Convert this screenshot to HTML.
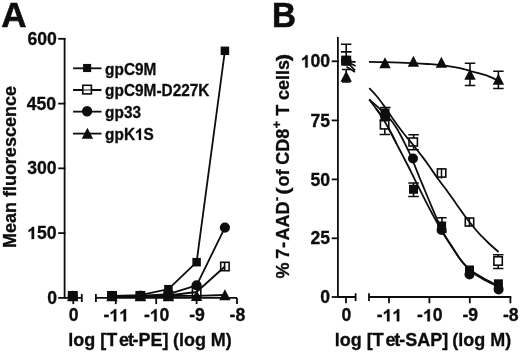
<!DOCTYPE html>
<html><head><meta charset="utf-8"><title>Figure</title>
<style>
html,body{margin:0;padding:0;background:#fff;}
body{width:520px;height:352px;overflow:hidden;}
svg{display:block;will-change:transform;font-family:"Liberation Sans",sans-serif;font-weight:bold;fill:#0d0d0d;font-kerning:none;}
text{stroke:#0d0d0d;stroke-width:0.3px;}
.pl{font-size:35px;stroke-width:0.6px;}
.tk{font-size:17.6px;}
.ti{font-size:18px;}
.lg{font-size:15.4px;}
.ax{stroke:#0d0d0d;stroke-width:1.8;fill:none;}
.ln{stroke:#0d0d0d;stroke-width:1.8;fill:none;}
</style></head>
<body>
<svg width="520" height="352" viewBox="0 0 520 352">
<rect width="520" height="352" fill="#fff"/>
<text transform="translate(1.3 26.8)" class="pl" text-anchor="start">A</text>
<path d="M64.6 37.9 L64.6 297.9" class="ax"/>
<path d="M58.2 38.8 L65.5 38.8" class="ax"/>
<g transform="translate(27.54 44.699999999999996) scale(1 1.0)" class="tk"><text x="0.00">600</text></g>
<path d="M58.2 103.6 L65.5 103.6" class="ax"/>
<g transform="translate(26.64 109.5) scale(1 1.0)" class="tk"><text x="0.00">450</text></g>
<path d="M58.2 168.35 L65.5 168.35" class="ax"/>
<g transform="translate(27.14 174.25) scale(1 1.0)" class="tk"><text x="0.00">300</text></g>
<path d="M58.2 233.1 L65.5 233.1" class="ax"/>
<g transform="translate(27.14 239.0) scale(1 1.0)" class="tk"><path transform="translate(0.00 0) scale(0.00859 -0.00826)" d="M806 0H525V1059Q371 915 162 846V1101Q272 1137 401 1237Q530 1338 578 1466H806Z" stroke="#0d0d0d" stroke-width="0.3" vector-effect="non-scaling-stroke"/><text x="9.79">50</text></g>
<path d="M58.2 297.9 L65.5 297.9" class="ax"/>
<g transform="translate(47.21 303.79999999999995) scale(1 1.0)" class="tk"><text x="0.00">0</text></g>
<path d="M64.6 297.9 L81.8 297.9 M81.8 294.09999999999997 L81.8 301.9 M95.9 297.9 L237 297.9 M95.9 294.09999999999997 L95.9 301.9" class="ax"/>
<path d="M73.3 297.9 L73.3 304.09999999999997" class="ax"/>
<g transform="translate(68.81 321.3) scale(1 1.0)" class="tk"><text x="0.00">0</text></g>
<path d="M115.8 297.9 L115.8 304.09999999999997" class="ax"/>
<g transform="translate(103.48 321.3) scale(1 1.0)" class="tk"><text x="0.00">-</text><path transform="translate(5.86 0) scale(0.00859 -0.00826)" d="M806 0H525V1059Q371 915 162 846V1101Q272 1137 401 1237Q530 1338 578 1466H806Z" stroke="#0d0d0d" stroke-width="0.3" vector-effect="non-scaling-stroke"/><path transform="translate(15.65 0) scale(0.00859 -0.00826)" d="M806 0H525V1059Q371 915 162 846V1101Q272 1137 401 1237Q530 1338 578 1466H806Z" stroke="#0d0d0d" stroke-width="0.3" vector-effect="non-scaling-stroke"/></g>
<path d="M156.2 297.9 L156.2 304.09999999999997" class="ax"/>
<g transform="translate(143.88 321.3) scale(1 1.0)" class="tk"><text x="0.00">-</text><path transform="translate(5.86 0) scale(0.00859 -0.00826)" d="M806 0H525V1059Q371 915 162 846V1101Q272 1137 401 1237Q530 1338 578 1466H806Z" stroke="#0d0d0d" stroke-width="0.3" vector-effect="non-scaling-stroke"/><text x="15.65">0</text></g>
<path d="M196.6 297.9 L196.6 304.09999999999997" class="ax"/>
<g transform="translate(189.18 321.3) scale(1 1.0)" class="tk"><text x="0.00">-9</text></g>
<path d="M237 297.9 L237 304.09999999999997" class="ax"/>
<g transform="translate(229.58 321.3) scale(1 1.0)" class="tk"><text x="0.00">-8</text></g>
<g transform="translate(0 345.6) scale(1 1.02)" class="ti"><text x="68.22">log [T</text><text x="118.90">e</text><text x="127.91">t</text><text x="132.61">-PE] </text><text x="172.91">(log M)</text></g>
<text transform="translate(16.3 167.1) rotate(-90) scale(1.0 1.02)" class="ti" text-anchor="middle">Mean fluorescence</text>
<rect x="83.05" y="63.95" width="8.10" height="8.10" fill="#0d0d0d"/>
<path d="M73.1 68.3 L101.5 68.3" class="ln"/>
<g transform="translate(105.10 74.6) scale(1 1.07)" class="lg"><text x="0.00">gpC9M</text></g>
<rect x="82.80" y="85.30" width="8.60" height="8.60" fill="#fff" stroke="#0d0d0d" stroke-width="1.6"/>
<path d="M73.1 90.0 L82.8 90.0 M91.4 90.0 L101.5 90.0" class="ln"/>
<path d="M82.8 90.0 L91.4 90.0" class="ln" opacity="0.55"/>
<g transform="translate(105.10 96.3) scale(1 1.07)" class="lg"><text x="0.00">gpC9M-D227K</text></g>
<circle cx="87.10" cy="111.25" r="5.15" fill="#0d0d0d"/>
<path d="M73.1 111.65 L101.5 111.65" class="ln"/>
<g transform="translate(105.10 117.95) scale(1 1.07)" class="lg"><text x="0.00">gp33</text></g>
<path d="M87.40 127.70 L93.10 138.80 L81.70 138.80 Z" fill="#0d0d0d"/>
<path d="M73.1 133.6 L101.5 133.6" class="ln"/>
<g transform="translate(105.10 139.9) scale(1 1.07)" class="lg"><text x="0.00">gpK</text><path transform="translate(29.84 0) scale(0.00750 -0.00720)" d="M806 0H525V1059Q371 915 162 846V1101Q272 1137 401 1237Q530 1338 578 1466H806Z" stroke="#0d0d0d" stroke-width="0.3" vector-effect="non-scaling-stroke"/><text x="38.37">S</text></g>
<rect x="68.55" y="291.75" width="8.50" height="8.50" fill="#0d0d0d"/>
<rect x="107.75" y="291.65" width="8.50" height="8.50" fill="#0d0d0d"/>
<rect x="136.15" y="290.95" width="8.50" height="8.50" fill="#0d0d0d"/>
<rect x="164.15" y="284.95" width="8.50" height="8.50" fill="#0d0d0d"/>
<rect x="192.35" y="257.95" width="8.50" height="8.50" fill="#0d0d0d"/>
<rect x="220.65" y="46.55" width="8.50" height="8.50" fill="#0d0d0d"/>
<path d="M112.00 295.90 L140.40 295.20 L168.40 289.20 L196.60 262.20 L224.90 50.80" stroke="#0d0d0d" stroke-width="1.8" fill="none" stroke-linejoin="round"/>
<rect x="68.60" y="291.80" width="8.40" height="8.40" fill="#fff" stroke="#0d0d0d" stroke-width="1.6"/>
<rect x="107.80" y="291.80" width="8.40" height="8.40" fill="#fff" stroke="#0d0d0d" stroke-width="1.6"/>
<rect x="136.20" y="291.80" width="8.40" height="8.40" fill="#fff" stroke="#0d0d0d" stroke-width="1.6"/>
<rect x="164.20" y="291.30" width="8.40" height="8.40" fill="#fff" stroke="#0d0d0d" stroke-width="1.6"/>
<rect x="192.40" y="287.80" width="8.40" height="8.40" fill="#fff" stroke="#0d0d0d" stroke-width="1.6"/>
<rect x="220.70" y="262.30" width="8.40" height="8.40" fill="#fff" stroke="#0d0d0d" stroke-width="1.6"/>
<path d="M224.60 263.00 L224.60 270.00 M224.60 263.00 L224.60 263.00 M224.60 270.00 L224.60 270.00" stroke="#0d0d0d" stroke-width="1.6" fill="none"/>
<path d="M112.00 296.00 L140.40 296.00 L168.40 295.50 L196.60 292.00 L224.90 266.50" stroke="#0d0d0d" stroke-width="1.8" fill="none" stroke-linejoin="round"/>
<circle cx="72.80" cy="296.00" r="5.1" fill="#0d0d0d"/>
<circle cx="112.00" cy="296.00" r="5.1" fill="#0d0d0d"/>
<circle cx="140.40" cy="295.80" r="5.1" fill="#0d0d0d"/>
<circle cx="168.40" cy="294.20" r="5.1" fill="#0d0d0d"/>
<circle cx="196.60" cy="285.30" r="5.1" fill="#0d0d0d"/>
<circle cx="224.90" cy="227.60" r="5.1" fill="#0d0d0d"/>
<path d="M112.00 296.00 L140.40 295.80 L168.40 294.20 L196.60 285.30 L224.90 227.60" stroke="#0d0d0d" stroke-width="1.8" fill="none" stroke-linejoin="round"/>
<path d="M72.80 290.15 L78.50 301.25 L67.10 301.25 Z" fill="#0d0d0d"/>
<path d="M112.00 290.15 L117.70 301.25 L106.30 301.25 Z" fill="#0d0d0d"/>
<path d="M140.40 290.15 L146.10 301.25 L134.70 301.25 Z" fill="#0d0d0d"/>
<path d="M168.40 290.15 L174.10 301.25 L162.70 301.25 Z" fill="#0d0d0d"/>
<path d="M196.60 289.95 L202.30 301.05 L190.90 301.05 Z" fill="#0d0d0d"/>
<path d="M224.90 289.15 L230.60 300.25 L219.20 300.25 Z" fill="#0d0d0d"/>
<path d="M112.00 296.00 L140.40 296.00 L168.40 296.00 L196.60 295.80 L224.90 295.00" stroke="#0d0d0d" stroke-width="1.8" fill="none" stroke-linejoin="round"/>
<text transform="translate(272.1 26.8) scale(0.95 1.0)" class="pl" text-anchor="start">B</text>
<path d="M337.9 37 L337.9 297.0" class="ax"/>
<path d="M331.7 61.3 L338.79999999999995 61.3" class="ax"/>
<g transform="translate(300.74 67.39999999999999) scale(1 1.0)" class="tk"><path transform="translate(0.00 0) scale(0.00859 -0.00826)" d="M806 0H525V1059Q371 915 162 846V1101Q272 1137 401 1237Q530 1338 578 1466H806Z" stroke="#0d0d0d" stroke-width="0.3" vector-effect="non-scaling-stroke"/><text x="9.79">00</text></g>
<path d="M331.7 120.4 L338.79999999999995 120.4" class="ax"/>
<g transform="translate(310.52 126.5) scale(1 1.0)" class="tk"><text x="0.00">75</text></g>
<path d="M331.7 179.4 L338.79999999999995 179.4" class="ax"/>
<g transform="translate(310.52 185.5) scale(1 1.0)" class="tk"><text x="0.00">50</text></g>
<path d="M331.7 238.3 L338.79999999999995 238.3" class="ax"/>
<g transform="translate(310.52 244.4) scale(1 1.0)" class="tk"><text x="0.00">25</text></g>
<path d="M331.7 297.0 L338.79999999999995 297.0" class="ax"/>
<g transform="translate(320.31 303.1) scale(1 1.0)" class="tk"><text x="0.00">0</text></g>
<path d="M337.9 297.0 L355.6 297.0 M355.6 293.2 L355.6 301.0 M369 297.0 L511.3 297.0 M369 293.2 L369 301.0" class="ax"/>
<path d="M346 297.0 L346 303.3" class="ax"/>
<g transform="translate(341.51 321.3) scale(1 1.0)" class="tk"><text x="0.00">0</text></g>
<path d="M389 297.0 L389 303.3" class="ax"/>
<g transform="translate(376.68 321.3) scale(1 1.0)" class="tk"><text x="0.00">-</text><path transform="translate(5.86 0) scale(0.00859 -0.00826)" d="M806 0H525V1059Q371 915 162 846V1101Q272 1137 401 1237Q530 1338 578 1466H806Z" stroke="#0d0d0d" stroke-width="0.3" vector-effect="non-scaling-stroke"/><path transform="translate(15.65 0) scale(0.00859 -0.00826)" d="M806 0H525V1059Q371 915 162 846V1101Q272 1137 401 1237Q530 1338 578 1466H806Z" stroke="#0d0d0d" stroke-width="0.3" vector-effect="non-scaling-stroke"/></g>
<path d="M429.4 297.0 L429.4 303.3" class="ax"/>
<g transform="translate(417.08 321.3) scale(1 1.0)" class="tk"><text x="0.00">-</text><path transform="translate(5.86 0) scale(0.00859 -0.00826)" d="M806 0H525V1059Q371 915 162 846V1101Q272 1137 401 1237Q530 1338 578 1466H806Z" stroke="#0d0d0d" stroke-width="0.3" vector-effect="non-scaling-stroke"/><text x="15.65">0</text></g>
<path d="M469.8 297.0 L469.8 303.3" class="ax"/>
<g transform="translate(462.38 321.3) scale(1 1.0)" class="tk"><text x="0.00">-9</text></g>
<path d="M510.4 297.0 L510.4 303.3" class="ax"/>
<g transform="translate(502.98 321.3) scale(1 1.0)" class="tk"><text x="0.00">-8</text></g>
<g transform="translate(0 345.6) scale(1 1.02)" class="ti"><text x="334.72">log [T</text><text x="385.50">e</text><text x="394.21">t</text><text x="399.31">-SAP] </text><text x="452.21">(log M)</text></g>
<g transform="translate(289.4 168.5) rotate(-90)" class="ti">
<text transform="translate(-109.9 0) scale(1 1.02)">%</text>
<text transform="translate(-90.3 0) scale(1 1.02)">7</text>
<text transform="translate(-79.6 0) scale(1 1.02)">-</text>
<text transform="translate(-72.1 0) scale(1 1.02)">AAD</text>
<text transform="translate(-32.6 -8.1) scale(1 1.02)" font-size="12">-</text>
<text transform="translate(-26.3 0) scale(1.22 1.02)">(</text>
<text transform="translate(-18.06 0) scale(1 1.02)">of</text>
<text transform="translate(3.74 0) scale(1 1.02)">CD8</text>
<text transform="translate(40.3 -8.6) scale(1 1.02)" font-size="12.5">+</text>
<text transform="translate(52.67 0) scale(1 1.02)">T</text>
<text transform="translate(68.46 0) scale(1 1.02)">cells</text>
<text transform="translate(107.3 0) scale(1.22 1.02)">)</text>
</g>
<path d="M346.20 44.30 L346.20 51.70 M340.95 44.30 L351.45 44.30 M340.95 51.70 L351.45 51.70" stroke="#0d0d0d" stroke-width="1.6" fill="none"/>
<path d="M346.20 51.70 L346.20 60.00 M340.95 51.70 L351.45 51.70 M340.95 60.00 L351.45 60.00" stroke="#0d0d0d" stroke-width="1.6" fill="none"/>
<path d="M413.50 183.00 L413.50 196.50 M408.25 183.00 L418.75 183.00 M408.25 196.50 L418.75 196.50" stroke="#0d0d0d" stroke-width="1.6" fill="none"/>
<path d="M442.00 217.80 L442.00 232.00 M437.25 217.80 L446.75 217.80 M437.25 232.00 L446.75 232.00" stroke="#0d0d0d" stroke-width="1.6" fill="none"/>
<rect x="341.70" y="56.30" width="9.00" height="9.00" fill="#0d0d0d"/>
<rect x="380.50" y="108.50" width="9.00" height="9.00" fill="#0d0d0d"/>
<rect x="409.00" y="184.80" width="9.00" height="9.00" fill="#0d0d0d"/>
<rect x="437.10" y="221.50" width="9.00" height="9.00" fill="#0d0d0d"/>
<rect x="465.00" y="265.50" width="9.00" height="9.00" fill="#0d0d0d"/>
<rect x="493.90" y="279.30" width="9.00" height="9.00" fill="#0d0d0d"/>
<path d="M369.20 99.50 C370.33 101.00 373.87 105.58 376.00 108.50 C378.13 111.42 379.67 113.25 382.00 117.00 C384.33 120.75 387.58 126.57 390.00 131.00 C392.42 135.43 394.33 139.40 396.50 143.60 C398.67 147.80 400.62 151.58 403.00 156.20 C405.38 160.82 408.47 166.67 410.80 171.30 C413.13 175.93 414.55 179.08 417.00 184.00 C419.45 188.92 423.08 196.08 425.50 200.80 C427.92 205.52 429.67 208.85 431.50 212.30 C433.33 215.75 434.92 218.67 436.50 221.50 C438.08 224.33 439.72 227.05 441.00 229.30 C442.28 231.55 442.58 232.38 444.20 235.00 C445.82 237.62 448.45 241.53 450.70 245.00 C452.95 248.47 455.37 252.52 457.70 255.80 C460.03 259.08 461.98 261.90 464.70 264.70 C467.42 267.50 470.78 270.28 474.00 272.60 C477.22 274.92 480.58 276.70 484.00 278.60 C487.42 280.50 492.10 282.80 494.50 284.00 C496.90 285.20 497.75 285.50 498.40 285.80" stroke="#0d0d0d" stroke-width="1.8" fill="none"/>
<path d="M384.80 120.00 L384.80 134.50 M379.55 120.00 L390.05 120.00 M379.55 134.50 L390.05 134.50" stroke="#0d0d0d" stroke-width="1.6" fill="none"/>
<path d="M413.60 134.70 L413.60 149.80 M408.35 134.70 L418.85 134.70 M408.35 149.80 L418.85 149.80" stroke="#0d0d0d" stroke-width="1.6" fill="none"/>
<path d="M498.20 254.80 L498.20 268.50 M492.95 254.80 L503.45 254.80 M492.95 268.50 L503.45 268.50" stroke="#0d0d0d" stroke-width="1.6" fill="none"/>
<rect x="342.00" y="56.40" width="8.4" height="8.4" fill="#fff" stroke="#0d0d0d" stroke-width="1.6"/>
<rect x="380.40" y="120.70" width="8.4" height="8.2" fill="#fff" stroke="#0d0d0d" stroke-width="1.6"/>
<rect x="409.00" y="138.00" width="8.4" height="8.0" fill="#fff" stroke="#0d0d0d" stroke-width="1.6"/>
<rect x="437.40" y="168.90" width="8.4" height="8.2" fill="#fff" stroke="#0d0d0d" stroke-width="1.6"/>
<rect x="465.30" y="218.00" width="8.4" height="8.0" fill="#fff" stroke="#0d0d0d" stroke-width="1.6"/>
<rect x="493.90" y="256.80" width="8.4" height="8.4" fill="#fff" stroke="#0d0d0d" stroke-width="1.6"/>
<path d="M441.5 168.5 L441.5 178.6 M469.4 218 L469.4 226.6" stroke="#0d0d0d" stroke-width="1.5"/>
<path d="M369.20 88.20 C370.50 89.58 374.45 93.45 377.00 96.50 C379.55 99.55 382.00 103.00 384.50 106.50 C387.00 110.00 389.50 113.92 392.00 117.50 C394.50 121.08 397.33 125.08 399.50 128.00 C401.67 130.92 402.58 132.00 405.00 135.00 C407.42 138.00 411.33 142.67 414.00 146.00 C416.67 149.33 418.83 152.17 421.00 155.00 C423.17 157.83 424.08 158.92 427.00 163.00 C429.92 167.08 435.25 175.00 438.50 179.50 C441.75 184.00 443.58 186.00 446.50 190.00 C449.42 194.00 452.75 198.92 456.00 203.50 C459.25 208.08 462.67 213.08 466.00 217.50 C469.33 221.92 473.33 226.83 476.00 230.00 C478.67 233.17 480.00 234.42 482.00 236.50 C484.00 238.58 485.25 239.92 488.00 242.50 C490.75 245.08 496.75 250.42 498.50 252.00" stroke="#0d0d0d" stroke-width="1.8" fill="none"/>
<path d="M376.00 108.50 C377.00 109.92 379.67 113.25 382.00 117.00 C384.33 120.75 387.58 126.57 390.00 131.00 C392.42 135.43 395.42 141.50 396.50 143.60" stroke="#0d0d0d" stroke-width="1.8" fill="none"/>
<path d="M385.40 107.50 L385.40 120.00 M380.15 107.50 L390.65 107.50 M380.15 120.00 L390.65 120.00" stroke="#0d0d0d" stroke-width="1.6" fill="none"/>
<circle cx="346.20" cy="60.80" r="5.0" fill="#0d0d0d"/>
<circle cx="385.00" cy="116.20" r="5.0" fill="#0d0d0d"/>
<circle cx="413.00" cy="158.50" r="5.0" fill="#0d0d0d"/>
<circle cx="441.60" cy="230.00" r="5.0" fill="#0d0d0d"/>
<circle cx="469.50" cy="274.40" r="5.0" fill="#0d0d0d"/>
<circle cx="498.60" cy="289.40" r="5.0" fill="#0d0d0d"/>
<path d="M369.20 99.50 C370.92 101.00 376.03 105.25 379.50 108.50 C382.97 111.75 387.17 115.75 390.00 119.00 C392.83 122.25 394.67 125.17 396.50 128.00 C398.33 130.83 399.58 133.37 401.00 136.00 C402.42 138.63 403.67 141.13 405.00 143.80 C406.33 146.47 407.58 148.88 409.00 152.00 C410.42 155.12 411.75 158.25 413.50 162.50 C415.25 166.75 417.67 173.00 419.50 177.50 C421.33 182.00 422.83 185.50 424.50 189.50 C426.17 193.50 427.75 197.33 429.50 201.50 C431.25 205.67 433.33 210.67 435.00 214.50 C436.67 218.33 437.87 221.00 439.50 224.50 C441.13 228.00 442.83 231.98 444.80 235.50 C446.77 239.02 449.05 242.12 451.30 245.60 C453.55 249.08 455.97 253.12 458.30 256.40 C460.63 259.68 462.68 262.43 465.30 265.30 C467.92 268.17 470.88 271.22 474.00 273.60 C477.12 275.98 480.58 277.70 484.00 279.60 C487.42 281.50 492.07 283.77 494.50 285.00 C496.93 286.23 497.92 286.67 498.60 287.00" stroke="#0d0d0d" stroke-width="1.8" fill="none"/>
<path d="M346.20 69.50 L346.20 82.00 M341.95 69.50 L350.45 69.50 M341.95 82.00 L350.45 82.00" stroke="#0d0d0d" stroke-width="1.6" fill="none"/>
<path d="M470.00 63.30 L470.00 85.50 M464.75 63.30 L475.25 63.30 M464.75 85.50 L475.25 85.50" stroke="#0d0d0d" stroke-width="1.6" fill="none"/>
<path d="M498.40 71.20 L498.40 88.50 M493.15 71.20 L503.65 71.20 M493.15 88.50 L503.65 88.50" stroke="#0d0d0d" stroke-width="1.6" fill="none"/>
<path d="M346.20 70.65 L351.90 81.75 L340.50 81.75 Z" fill="#0d0d0d"/>
<path d="M385.00 57.25 L390.70 68.35 L379.30 68.35 Z" fill="#0d0d0d"/>
<path d="M413.40 55.65 L419.10 66.75 L407.70 66.75 Z" fill="#0d0d0d"/>
<path d="M441.40 56.65 L447.10 67.75 L435.70 67.75 Z" fill="#0d0d0d"/>
<path d="M470.00 68.65 L475.70 79.75 L464.30 79.75 Z" fill="#0d0d0d"/>
<path d="M498.40 73.65 L504.10 84.75 L492.70 84.75 Z" fill="#0d0d0d"/>
<path d="M369.00 61.90 C371.67 61.95 379.83 62.08 385.00 62.20 C390.17 62.32 395.33 62.43 400.00 62.60 C404.67 62.77 408.50 62.97 413.00 63.20 C417.50 63.43 422.27 63.68 427.00 64.00 C431.73 64.32 436.57 64.55 441.40 65.10 C446.23 65.65 452.23 66.63 456.00 67.30 C459.77 67.97 461.67 68.48 464.00 69.10 C466.33 69.72 467.00 70.15 470.00 71.00 C473.00 71.85 478.67 73.23 482.00 74.20 C485.33 75.17 487.67 75.92 490.00 76.80 C492.33 77.68 494.60 78.87 496.00 79.50 C497.40 80.13 498.00 80.42 498.40 80.60" stroke="#0d0d0d" stroke-width="1.8" fill="none"/>
<path d="M348 61.6 L355.6 61.8 M348 62.2 L355.6 65.9 M348 63 L355 70.4 M346.5 66.8 L355 72" stroke="#0d0d0d" stroke-width="1.7" fill="none"/>
</svg>
</body></html>
